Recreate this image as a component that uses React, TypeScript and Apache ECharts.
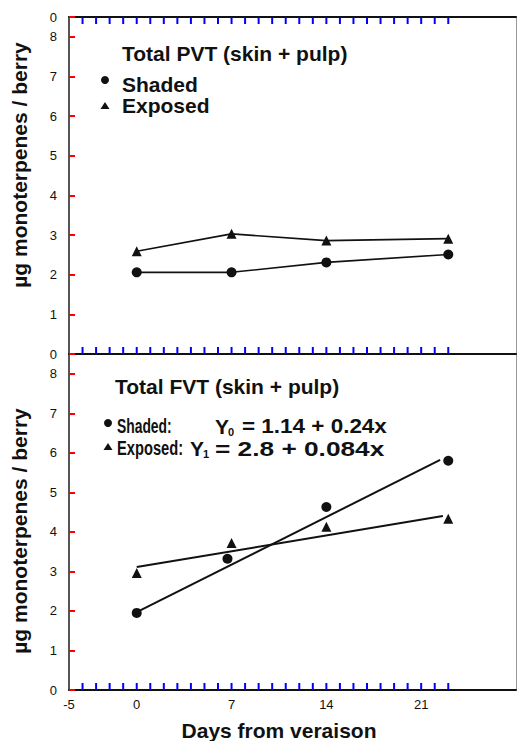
import React, { useEffect, useRef } from "react";
import * as echarts from "echarts";

// ---- data ----
const days = [0, 7, 14, 23];
const pvtShaded = [2.06, 2.06, 2.31, 2.51];
const pvtExposed = [2.59, 3.03, 2.86, 2.91];

const fvtShadedDays = [0, 6.7, 14, 23];
const fvtShaded = [1.95, 3.32, 4.63, 5.8];
const fvtExposedDays = [0, 7, 14, 23];
const fvtExposed = [2.96, 3.72, 4.13, 4.33];

// drawn regression lines (end points as seen in the figure)
const fitShadedX = [0, 22.4];
const fitShadedY = [1.97, 5.82];
const fitExposedX = [0, 22.6];
const fitExposedY = [3.11, 4.4];

const xTickLabels = [-5, 0, 7, 14, 21];
const xMinorTicks = [-4, -3, -2, -1, 0, 1, 2, 3, 4, 5, 6, 7, 8, 9, 10, 11, 12, 13, 14, 15, 16, 17, 18, 19, 20, 21, 22, 23];
const topPanelTopLabel = "0";

const FONT = "Liberation Sans, Arial, Helvetica, sans-serif";
const INK = "#111";

export default function App() {
  const ref = useRef<HTMLDivElement>(null);
  useEffect(() => {
    if (!ref.current) return;
    const chart = echarts.init(ref.current, null, { renderer: "svg" });

    const xBase = (gridIndex: number, position: string, showLabel: boolean) => ({
      type: "value",
      gridIndex,
      position,
      min: -5,
      max: 28,
      interval: 1,
      axisLine: { show: true, onZero: false, lineStyle: { color: INK, width: 2 } },
      axisTick: { show: false },
      axisLabel: {
        show: showLabel,
        formatter: (v: number) => (xTickLabels.includes(v) ? String(v) : ""),
        fontSize: 13,
        color: INK,
        fontFamily: FONT,
        margin: 8,
      },
      splitLine: { show: false },
    });

    const yBase = (gridIndex: number, topLabel: string) => ({
      type: "value",
      gridIndex,
      min: 0,
      max: 8.5,
      interval: 1,
      axisLine: { show: true, onZero: false, lineStyle: { color: "#555", width: 2 } },
      axisTick: { show: true, inside: true, length: 6, lineStyle: { color: "red", width: 2 } },
      axisLabel: {
        formatter: (v: number) => (v === 8.5 ? topLabel : String(v)),
        fontSize: 13,
        color: INK,
        fontFamily: FONT,
        margin: 12,
      },
      splitLine: { show: false },
    });

    const yRight = (gridIndex: number) => ({
      type: "value",
      gridIndex,
      position: "right",
      min: 0,
      max: 8.5,
      axisLine: { show: true, onZero: false, lineStyle: { color: "#999", width: 1 } },
      axisTick: { show: false },
      axisLabel: { show: false },
      splitLine: { show: false },
    });

    const toPairs = (xs: number[], ys: number[]) => xs.map((x, i) => [x, ys[i]]);

    const lineStyle = { color: INK, width: 1.6 };
    const markerStyle = { color: INK, opacity: 1 };

    const tickSeries = (xAxisIndex: number, yAxisIndex: number, yVal: number, dir: number) => ({
      type: "scatter",
      xAxisIndex,
      yAxisIndex,
      data: xMinorTicks.map((d) => [d, yVal]),
      symbol: "rect",
      symbolSize: [2, 7],
      symbolOffset: [0, dir * 3.5],
      itemStyle: { color: "blue", opacity: 1 },
      clip: false,
      z: 5,
    });

    chart.setOption({
      animation: false,
      backgroundColor: "#fff",
      grid: [
        { left: 69, right: 5, top: 17, height: 337 },
        { left: 69, right: 5, top: 354, height: 336 },
      ],
      xAxis: [xBase(0, "bottom", false), xBase(0, "top", false), xBase(1, "bottom", true)],
      yAxis: [yBase(0, topPanelTopLabel), yBase(1, ""), yRight(0), yRight(1)],
      series: [
        tickSeries(0, 0, 8.5, 1),
        tickSeries(0, 0, 0, -1),
        tickSeries(2, 1, 0, -1),
        { type: "line", xAxisIndex: 0, yAxisIndex: 0, data: toPairs(days, pvtShaded), symbol: "circle", symbolSize: 10, itemStyle: markerStyle, lineStyle },
        { type: "line", xAxisIndex: 0, yAxisIndex: 0, data: toPairs(days, pvtExposed), symbol: "triangle", symbolSize: 10, itemStyle: markerStyle, lineStyle },
        { type: "line", xAxisIndex: 2, yAxisIndex: 1, data: toPairs(fitShadedX, fitShadedY), symbol: "none", lineStyle: { color: INK, width: 2 } },
        { type: "line", xAxisIndex: 2, yAxisIndex: 1, data: toPairs(fitExposedX, fitExposedY), symbol: "none", lineStyle: { color: INK, width: 2 } },
        { type: "scatter", xAxisIndex: 2, yAxisIndex: 1, data: toPairs(fvtShadedDays, fvtShaded), symbol: "circle", symbolSize: 10, itemStyle: markerStyle },
        { type: "scatter", xAxisIndex: 2, yAxisIndex: 1, data: toPairs(fvtExposedDays, fvtExposed), symbol: "triangle", symbolSize: 10, itemStyle: markerStyle },
      ],
      graphic: [
        { type: "text", x: 19, y: 165, rotation: Math.PI / 2, style: { text: "µg monoterpenes / berry", font: `bold 21px ${FONT}`, fill: INK, textAlign: "center", textVerticalAlign: "middle" } },
        { type: "text", x: 19, y: 531, rotation: Math.PI / 2, style: { text: "µg monoterpenes / berry", font: `bold 21px ${FONT}`, fill: INK, textAlign: "center", textVerticalAlign: "middle" } },
        { type: "text", x: 279, y: 730, style: { text: "Days from veraison", font: `bold 21px ${FONT}`, fill: INK, textAlign: "center", textVerticalAlign: "middle" } },
        { type: "text", x: 122, y: 53, style: { text: "Total PVT (skin + pulp)", font: `bold 21px ${FONT}`, fill: INK, textVerticalAlign: "middle" } },
        { type: "circle", shape: { cx: 105, cy: 80, r: 4 }, style: { fill: INK } },
        { type: "text", x: 122, y: 84, style: { text: "Shaded", font: `bold 21px ${FONT}`, fill: INK, textVerticalAlign: "middle" } },
        { type: "polygon", shape: { points: [[105, 102], [100.5, 109], [109.5, 109]] }, style: { fill: INK } },
        { type: "text", x: 122, y: 105, style: { text: "Exposed", font: `bold 21px ${FONT}`, fill: INK, textVerticalAlign: "middle" } },
        { type: "text", x: 115, y: 386, style: { text: "Total FVT (skin + pulp)", font: `bold 21px ${FONT}`, fill: INK, textVerticalAlign: "middle" } },
        { type: "circle", shape: { cx: 108, cy: 423, r: 4 }, style: { fill: INK } },
        { type: "text", x: 117, y: 426, scaleX: 0.66, style: { text: "Shaded:", font: `bold 21px ${FONT}`, fill: INK, textVerticalAlign: "middle" } },
        { type: "text", x: 215, y: 426, style: { text: "Y", font: `bold 21px ${FONT}`, fill: INK, textVerticalAlign: "middle" } },
        { type: "text", x: 228, y: 432, style: { text: "0", font: `bold 11px ${FONT}`, fill: INK, textVerticalAlign: "middle" } },
        { type: "text", x: 242, y: 426, scaleX: 1.07, style: { text: "= 1.14 + 0.24x", font: `bold 21px ${FONT}`, fill: INK, textVerticalAlign: "middle" } },
        { type: "polygon", shape: { points: [[108, 443], [103.5, 450], [112.5, 450]] }, style: { fill: INK } },
        { type: "text", x: 117, y: 448, scaleX: 0.7, style: { text: "Exposed:", font: `bold 21px ${FONT}`, fill: INK, textVerticalAlign: "middle" } },
        { type: "text", x: 190, y: 448, style: { text: "Y", font: `bold 21px ${FONT}`, fill: INK, textVerticalAlign: "middle" } },
        { type: "text", x: 203, y: 454, style: { text: "1", font: `bold 11px ${FONT}`, fill: INK, textVerticalAlign: "middle" } },
        { type: "text", x: 215, y: 448, scaleX: 1.25, style: { text: "= 2.8 + 0.084x", font: `bold 21px ${FONT}`, fill: INK, textVerticalAlign: "middle" } },
      ],
    });
    return () => chart.dispose();
  }, []);

  return <div ref={ref} style={{ width: 521, height: 741, position: "absolute", left: 0, top: 0 }} />;
}
